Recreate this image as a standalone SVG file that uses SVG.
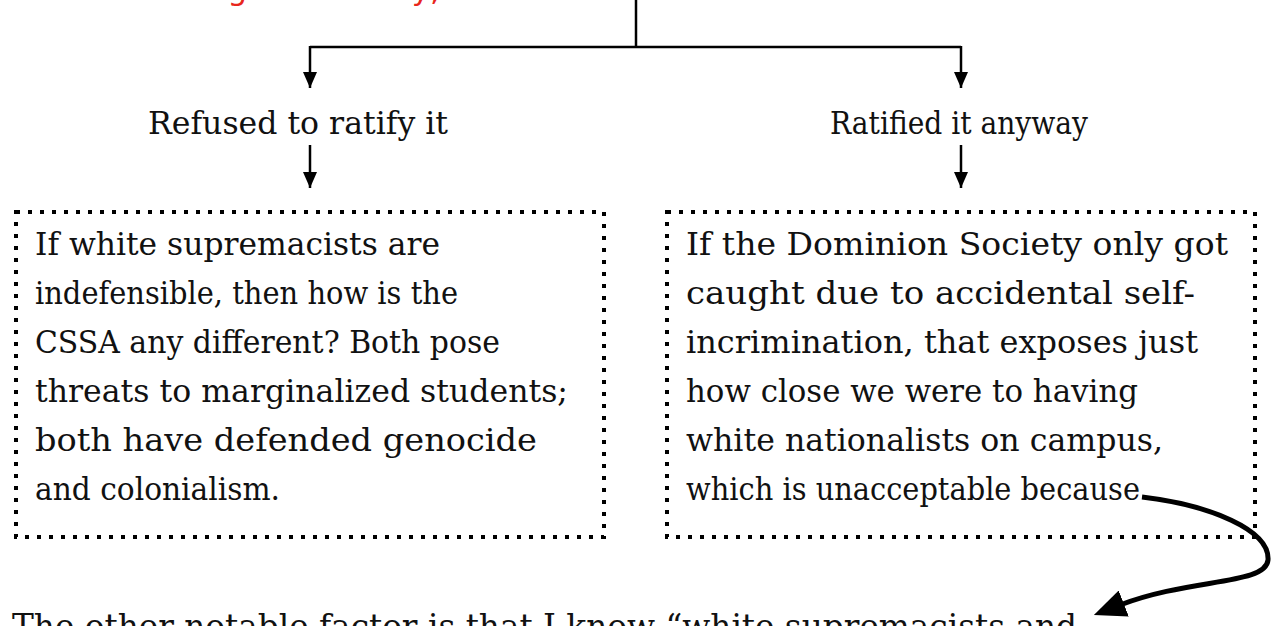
<svg xmlns="http://www.w3.org/2000/svg" width="1272" height="626" viewBox="0 0 1272 626">
<style>
.t{font-family:"DejaVu Serif","Liberation Serif",serif;font-size:31px;fill:#111}
.b{font-size:33px}
.red{font-family:"DejaVu Sans","Liberation Sans",sans-serif;font-size:31px;fill:#e8261c}
.box{fill:none;stroke:#000;stroke-width:4;stroke-dasharray:4 8}
.ln{fill:none;stroke:#000;stroke-width:2.5}
.cv{fill:none;stroke:#000;stroke-width:5}
</style>
<defs>
<marker id="ah" markerUnits="userSpaceOnUse" markerWidth="16" markerHeight="14" refX="16" refY="7" orient="auto"><path d="M0,0 L16,7 L0,14 z" fill="#000"/></marker>
<marker id="ahb" markerUnits="userSpaceOnUse" markerWidth="32" markerHeight="28" refX="4" refY="14" orient="auto"><path d="M0,0 L32,14 L0,28 z" fill="#000"/></marker>
</defs>
<rect width="1272" height="626" fill="#fff"/>
<g id="top"><text class="red" x="102" y="0">Following this history,</text></g>
<g id="connectors">
<path class="ln" d="M636,0 V47"/>
<path class="ln" d="M310,47 H961"/>
<path class="ln" d="M310,46 V88" marker-end="url(#ah)"/>
<path class="ln" d="M961,46 V88" marker-end="url(#ah)"/>
<path class="ln" d="M310,145 V188" marker-end="url(#ah)"/>
<path class="ln" d="M961,145 V188" marker-end="url(#ah)"/>
<path class="cv" d="M1142,497 C1210,505 1270,530 1268,560 C1266,585 1190,578 1120,605" marker-end="url(#ahb)"/>
</g>
<g id="refused"><text class="t" x="148" y="134" textLength="300" lengthAdjust="spacingAndGlyphs">Refused to ratify it</text></g>
<g id="ratified"><text class="t" x="830" y="134" textLength="258" lengthAdjust="spacingAndGlyphs">Ratified it anyway</text></g>
<g id="leftbox">
<rect class="box" x="16" y="212" width="588" height="325"/>
<text class="t" x="35" y="255" textLength="405" lengthAdjust="spacingAndGlyphs">If white supremacists are</text>
<text class="t" x="35" y="304" textLength="423" lengthAdjust="spacingAndGlyphs">indefensible, then how is the</text>
<text class="t" x="35" y="353" textLength="465" lengthAdjust="spacingAndGlyphs">CSSA any different? Both pose</text>
<text class="t" x="35" y="402" textLength="533" lengthAdjust="spacingAndGlyphs">threats to marginalized students;</text>
<text class="t" x="35" y="451" textLength="502" lengthAdjust="spacingAndGlyphs">both have defended genocide</text>
<text class="t" x="35" y="500" textLength="245" lengthAdjust="spacingAndGlyphs">and colonialism.</text>
</g>
<g id="rightbox">
<rect class="box" x="667" y="212" width="588" height="325"/>
<text class="t" x="686" y="255" textLength="542" lengthAdjust="spacingAndGlyphs">If the Dominion Society only got</text>
<text class="t" x="686" y="304" textLength="509" lengthAdjust="spacingAndGlyphs">caught due to accidental self-</text>
<text class="t" x="686" y="353" textLength="512" lengthAdjust="spacingAndGlyphs">incrimination, that exposes just</text>
<text class="t" x="686" y="402" textLength="452" lengthAdjust="spacingAndGlyphs">how close we were to having</text>
<text class="t" x="686" y="451" textLength="477" lengthAdjust="spacingAndGlyphs">white nationalists on campus,</text>
<text class="t" x="686" y="500" textLength="454" lengthAdjust="spacingAndGlyphs">which is unacceptable because</text>
</g>
<g id="bottom"><text class="t b" x="12" y="638" textLength="1065" lengthAdjust="spacingAndGlyphs">The other notable factor is that I know “white supremacists and</text></g>
</svg>
